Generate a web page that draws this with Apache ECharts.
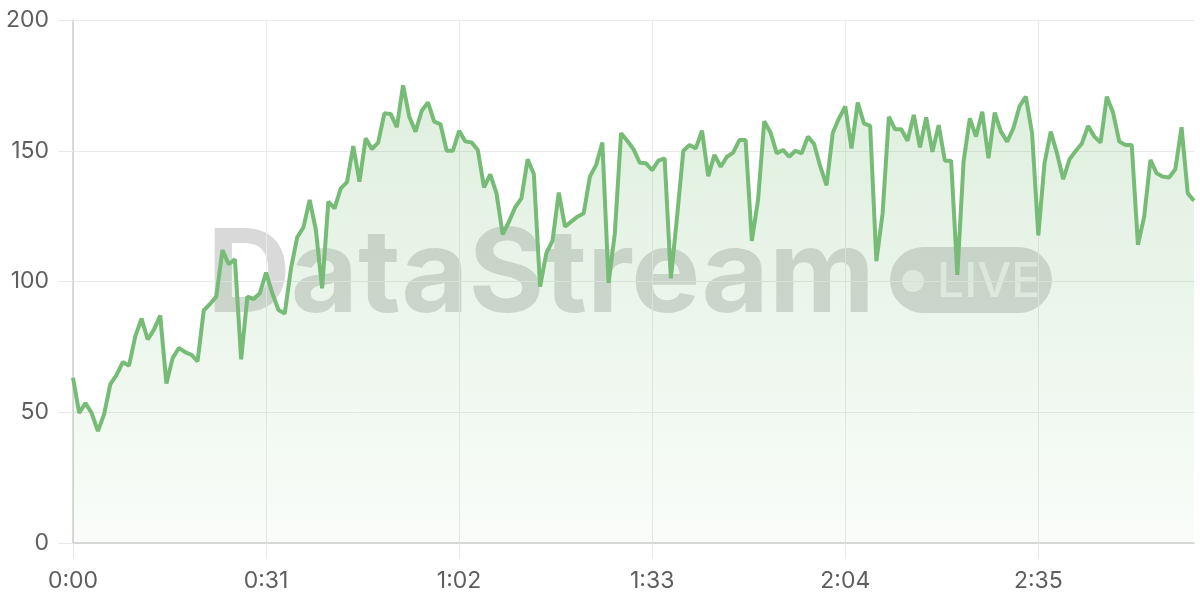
<!DOCTYPE html>
<html>
<head>
<meta charset="utf-8">
<script src="https://cdn.jsdelivr.net/npm/echarts@6/dist/echarts.min.js"></script>
<style>
html,body{margin:0;padding:0;background:#fff;}
#chart{width:1200px;height:600px;}
</style>
</head>
<body>
<div id="chart"></div>
<script>
// Seconds 0..180, one sample per second
const seconds = Array.from({length: 181}, (_, i) => i);
const timeLabels = seconds.map(s => Math.floor(s / 60) + ':' + String(s % 60).padStart(2, '0'));

const values = [
  63.2, 49.7, 53.5, 49.7, 42.8, 49.3, 60.8, 64.3, 69.2, 67.8,
  79.0, 85.8, 77.8, 81.6, 87.0, 61.0, 70.7, 74.6, 73.0, 72.0,
  69.5, 89.0, 91.4, 94.2, 112.0, 106.6, 108.5, 70.2, 94.2, 93.3,
  95.5, 103.4, 95.5, 89.1, 87.8, 105.0, 116.9, 120.7, 131.2, 119.7,
  97.4, 130.5, 128.0, 135.6, 138.0, 151.8, 138.2, 154.8, 150.6, 153.1,
  164.3, 164.1, 159.0, 175.0, 163.0, 157.3, 165.3, 168.5, 161.1, 160.2,
  150.0, 150.0, 157.6, 153.5, 153.2, 150.3, 136.0, 141.0, 133.7, 118.0,
  122.9, 128.4, 131.8, 146.7, 141.1, 98.0, 110.8, 115.6, 134.0, 121.0,
  122.9, 124.8, 126.1, 140.1, 144.6, 153.1, 99.5, 118.4, 156.7, 153.8,
  150.6, 145.4, 145.2, 142.6, 146.2, 147.1, 101.2, 124.8, 150.0, 152.2,
  150.9, 157.7, 140.3, 148.4, 143.9, 147.7, 149.3, 154.1, 154.1, 115.5,
  131.2, 161.3, 157.0, 149.0, 150.3, 147.7, 150.0, 149.0, 155.4, 152.6,
  143.9, 136.8, 156.9, 162.4, 166.9, 150.9, 168.4, 160.5, 159.5, 107.8,
  126.1, 163.0, 158.2, 158.2, 153.8, 163.7, 151.3, 162.8, 149.6, 159.8,
  146.2, 146.2, 102.5, 145.8, 162.4, 155.4, 164.9, 147.1, 164.6, 157.3,
  153.5, 158.6, 167.1, 170.7, 156.7, 117.6, 145.3, 157.3, 149.0, 139.1,
  146.7, 149.9, 152.8, 159.5, 155.4, 153.1, 170.7, 164.6, 153.5, 152.2,
  152.2, 114.0, 124.8, 146.5, 141.4, 140.1, 139.8, 142.9, 159.0, 133.7,
  130.9
];

const yTicks = [0, 50, 100, 150, 200];
const watermarkText = 'DataStream';
const badgeText = 'LIVE';

const chart = echarts.init(document.getElementById('chart'), null, {renderer: 'canvas'});
const green = '#76bc76';
const labelColor = '#5e5e5e';
const gridColor = '#e9e9e9';
const axisColor = '#cfcfcf';
const wmFill = 'rgba(0,0,0,0.15)';

chart.setOption({
  animation: false,
  backgroundColor: '#ffffff',
  grid: {left: 73, right: 6, top: 20, bottom: 57, containLabel: false},
  xAxis: {
    type: 'category',
    data: timeLabels,
    boundaryGap: false,
    axisLine: {show: true, lineStyle: {color: axisColor, width: 1.5}},
    axisTick: {show: true, interval: 30, length: 16, lineStyle: {color: gridColor}},
    axisLabel: {interval: 30, margin: 27, color: labelColor, fontFamily: 'Inter', fontSize: 23},
    splitLine: {show: true, interval: 30, lineStyle: {color: gridColor, width: 1}}
  },
  yAxis: {
    type: 'value',
    min: yTicks[0],
    max: yTicks[yTicks.length - 1],
    interval: 50,
    axisLine: {show: true, lineStyle: {color: axisColor, width: 1.5}},
    axisTick: {show: true, length: 15, lineStyle: {color: gridColor}},
    axisLabel: {margin: 24, color: labelColor, fontFamily: 'Inter', fontSize: 23},
    splitLine: {show: true, lineStyle: {color: gridColor, width: 1}}
  },
  graphic: [
    {
      type: 'text', z: 0, silent: true,
      x: 207, y: 219,
      style: {text: watermarkText, fill: wmFill, font: 'bold 116px Inter', align: 'left', verticalAlign: 'top'}
    },
    {
      type: 'rect', z: 0, silent: true,
      shape: {x: 890, y: 247, width: 162, height: 66, r: 33},
      style: {fill: wmFill}
    },
    {
      type: 'circle', z: 0, silent: true,
      shape: {cx: 913, cy: 281, r: 11},
      style: {fill: 'rgba(255,255,255,0.6)'}
    },
    {
      type: 'text', z: 0, silent: true,
      x: 937, y: 259,
      style: {text: badgeText, fill: 'rgba(255,255,255,0.6)', font: '500 48px Inter', align: 'left', verticalAlign: 'top'}
    }
  ],
  series: [{
    type: 'line',
    data: values,
    showSymbol: false,
    symbol: 'none',
    z: 3,
    lineStyle: {color: green, width: 4},
    itemStyle: {color: green},
    areaStyle: {
      color: new echarts.graphic.LinearGradient(0, 0, 0, 1, [
        {offset: 0, color: 'rgba(118,188,118,0.34)'},
        {offset: 1, color: 'rgba(118,188,118,0.06)'}
      ])
    }
  }]
});
</script>
</body>
</html>
